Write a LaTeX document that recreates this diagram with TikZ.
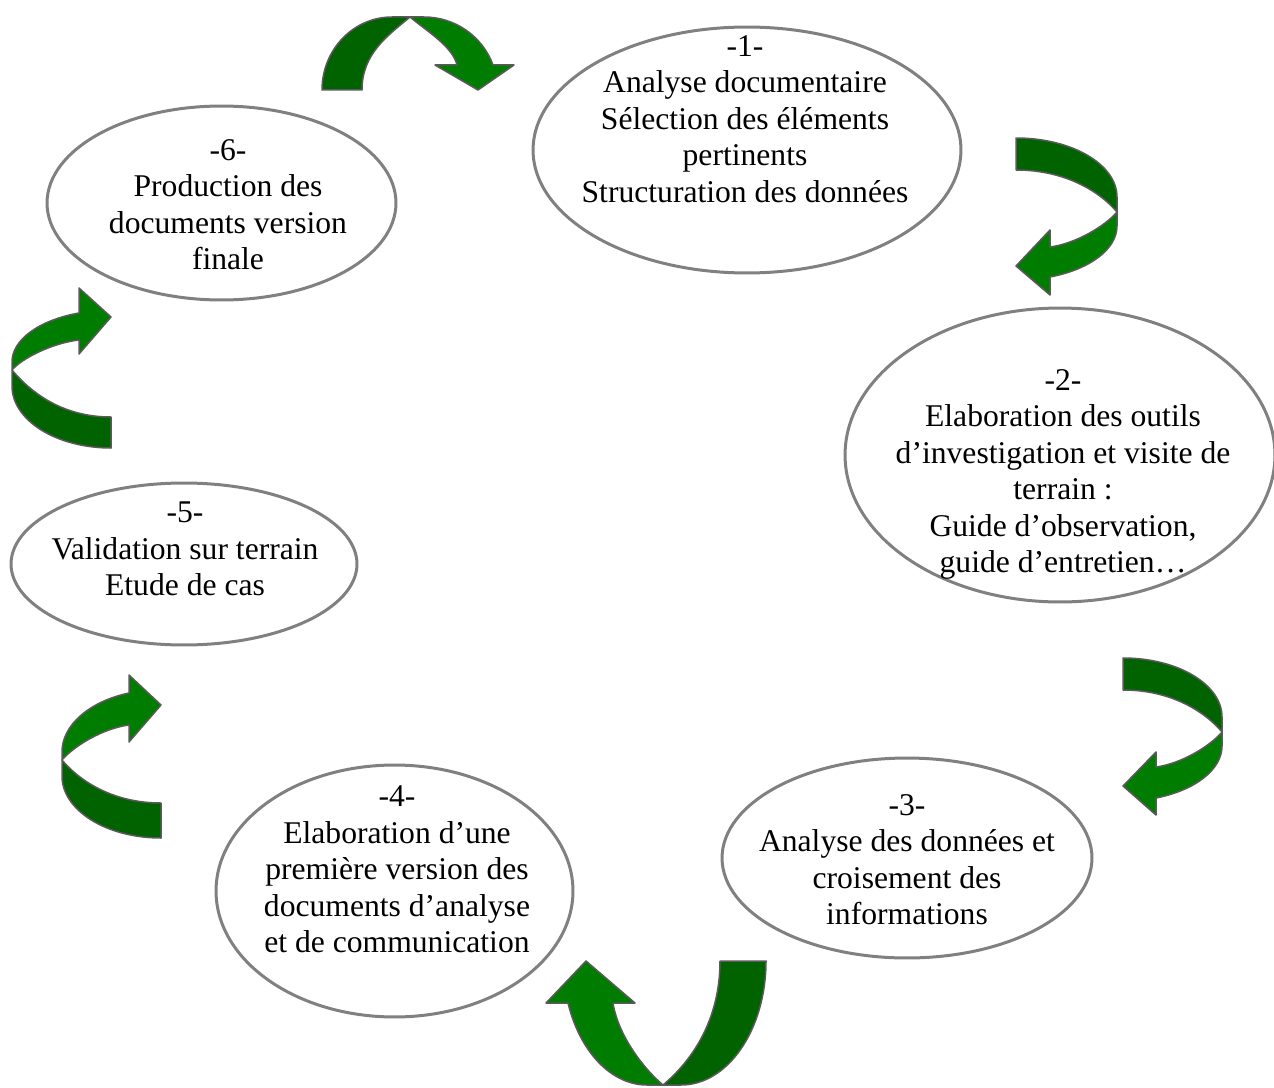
\documentclass[tikz,border=0pt]{standalone}
\usepackage{fontspec}
\setmainfont{Liberation Serif}
\usetikzlibrary{shapes.geometric}
\definecolor{dkg}{RGB}{0,99,0}
\definecolor{ltg}{RGB}{0,125,0}
\definecolor{elledge}{RGB}{128,128,128}
\definecolor{arredge}{RGB}{90,90,90}
% #1 tail outer u, #2 tail inner u, #3 height H, #4 head base v,
% #5 shaft outer u, #6 shaft inner u, #7 inner barb u, #8 outer barb u, #9 tip u
% \gaFd, \gaFl : flat part of the outer edge at the twist (dark side, light side)
\newcommand\grarrow[9]{%
 \pgfmathsetmacro\gaT{acos(#4/#3)}%
 \pgfmathsetmacro\gaS{sin(\gaT)}%
 \pgfmathsetmacro\gaC{cos(\gaT)}%
 \pgfmathsetmacro\gaA{4/3*tan(\gaT/4)}%
 \pgfmathsetmacro\gaRo{(#5-\gaFl)/\gaS}%
 \pgfmathsetmacro\gaRi{#6/\gaS}%
 \pgfmathsetmacro\gaRd{-(#1)-\gaFd}%
 \pgfmathsetmacro\dOk{-\gaFd-0.5523*\gaRd}%
 \pgfmathsetmacro\hK{0.5523*#3}%
 % dark inner edge
 \pgfmathsetmacro\dcu{0.6*(#2)*cos(40)}%
 \pgfmathsetmacro\dcv{#3+0.6*(#2)*sin(40)}%
 \pgfmathsetmacro\dct{0.5*#3}%
 % light outer edge
 \pgfmathsetmacro\lOa{\gaFl+\gaA*\gaRo}%
 \pgfmathsetmacro\lOb{#5-\gaA*\gaRo*\gaC}%
 \pgfmathsetmacro\lV{#4+\gaA*#3*\gaS}%
 % light inner edge
 \pgfmathsetmacro\lcu{0.5*(#6)*cos(40)}%
 \pgfmathsetmacro\lcv{#3-0.5*(#6)*sin(40)}%
 \pgfmathsetmacro\gtx{\gaRi*\gaC}%
 \pgfmathsetmacro\gty{#3*\gaS}%
 \pgfmathsetmacro\gtn{sqrt(\gtx*\gtx+\gty*\gty)}%
 \pgfmathsetmacro\gde{0.4*(#3-#4)}%
 \pgfmathsetmacro\leu{#6-\gde*\gtx/\gtn}%
 \pgfmathsetmacro\lev{#4+\gde*\gty/\gtn}%
 \path[arrdark] (#1,0) .. controls (#1,\hK) and (\dOk,#3) .. (-\gaFd,#3) -- (0,#3)
   .. controls (\dcu,\dcv) and (#2,\dct) .. (#2,0) -- cycle;
 \path[arrlight] (0,#3) -- (\gaFl,#3) .. controls (\lOa,#3) and (\lOb,\lV) .. (#5,#4)
   -- (#8,#4) -- (#9,0) -- (#7,#4) -- (#6,#4)
   .. controls (\leu,\lev) and (\lcu,\lcv) .. (0,#3) -- cycle;
}
\tikzset{
  ell/.style={ellipse, draw=elledge, line width=0.06cm, fill=white, inner sep=0pt},
  txt/.style={align=center, font=\fontsize{18}{20.8}\selectfont, inner sep=0pt},
  arrdark/.style={fill=dkg, draw=arredge, line width=0.03cm, line join=round},
  arrlight/.style={fill=ltg, draw=arredge, line width=0.03cm, line join=round},
  orA/.style={x={(0.02cm,0cm)}, y={(0cm,0.02cm)}},
  orB/.style={x={(0cm,-0.02cm)}, y={(0.02cm,0cm)}},
  orC/.style={x={(0cm,0.02cm)}, y={(-0.02cm,0cm)}},
  orF/.style={x={(-0.02cm,0cm)}, y={(0cm,-0.02cm)}},
}
\begin{document}
\begin{tikzpicture}[x=0.02cm, y=-0.02cm]
\useasboundingbox (0,0) rectangle (1274,1088);
% ellipses
\node[ell, minimum width=8.56cm, minimum height=4.92cm] (e1) at (747,150) {};
\node[ell, minimum width=8.60cm, minimum height=5.88cm] (e2) at (1060,455) {};
\node[ell, minimum width=7.40cm, minimum height=4.00cm] (e3) at (907,858) {};
\node[ell, minimum width=7.14cm, minimum height=5.04cm] (e4) at (394.5,891) {};
\node[ell, minimum width=6.92cm, minimum height=3.24cm] (e5) at (184,564) {};
\node[ell, minimum width=6.98cm, minimum height=3.88cm] (e6) at (221.5,203) {};
% texts
\node[txt] (t1) at (745,119) {-1-\\Analyse documentaire\\Sélection des éléments\\pertinents\\Structuration des données};
\node[txt] (t2) at (1063,474.5) {-2-\\Elaboration des outils\\d’investigation et visite de\\terrain :\\Guide d’observation,\\guide d’entretien…};
\node[txt] (t3) at (907,859.5) {-3-\\Analyse des données et\\croisement des\\informations};
\node[txt] (t4) at (397,869.5) {-4-\\Elaboration d’une\\première version des\\documents d’analyse\\et de communication};
\node[txt] (t5) at (185,549) {-5-\\Validation sur terrain\\Etude de cas};
\node[txt] (t6) at (228,204.5) {-6-\\Production des\\documents version\\finale};
% arrows
\def\gaFd{18}\def\gaFl{14}
\begin{scope}[shift={(410,90)}, orA]
  \grarrow{-88}{-48}{73}{25}{83}{47}{25}{104}{68}
\end{scope}
\def\gaFd{15}\def\gaFl{14}
\begin{scope}[shift={(1016,212)}, orB]
  \grarrow{-74}{-42}{101}{34}{65}{35}{18}{83}{54}
\end{scope}
\begin{scope}[shift={(1123,732)}, orB]
  \grarrow{-74}{-42}{99}{33}{66}{35}{20}{83}{54}
\end{scope}
\def\gaFd{18}\def\gaFl{16}
\begin{scope}[shift={(663,961)}, orF]
  \grarrow{-103}{-57}{124}{42}{95}{50}{28}{117}{77}
\end{scope}
\def\gaFd{16}\def\gaFl{8}
\begin{scope}[shift={(161,760)}, orC]
  \grarrow{-78}{-43}{99}{32}{67}{35}{18}{85}{55}
\end{scope}
\begin{scope}[shift={(111,370)}, orC]
  \grarrow{-78}{-47}{99}{32}{57}{30}{16}{82}{53}
\end{scope}
\end{tikzpicture}
\end{document}
